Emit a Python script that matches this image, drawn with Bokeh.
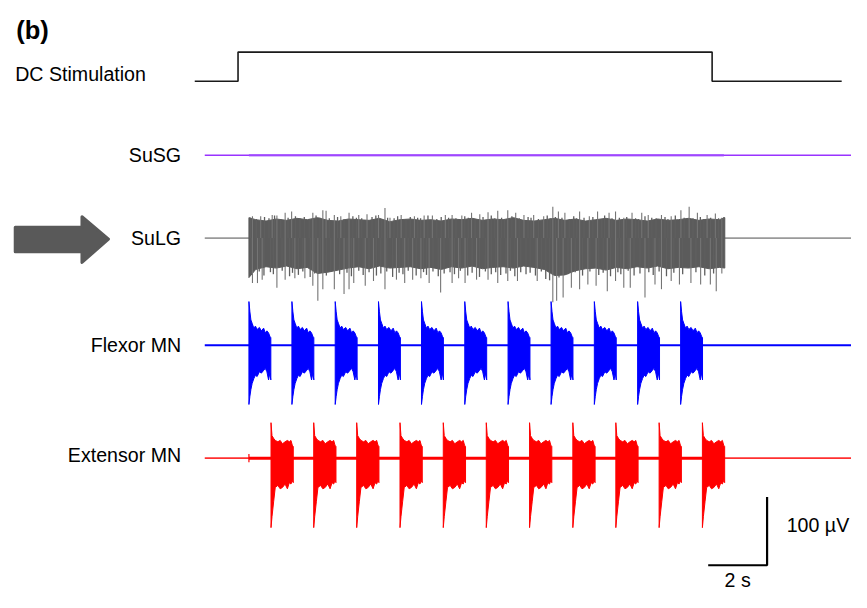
from bokeh.plotting import figure
from bokeh.models import Range1d
from bokeh.core.properties import value
from bokeh.embed import file_html
from bokeh.resources import INLINE

# ---------------- data (time in s, amplitude in µV) ----------------
stim_on, stim_off = 0.0, 16.1            # DC stimulation period
dc_span = (-1.47, 20.5)                  # extent of the DC trace
trace_span = (-1.13, 20.9)               # extent of the recording traces
susg_active = (0.37, 16.5)               # SuSG: faint noise during stimulation

# SuLG: dense core envelope
sulg_core_t = [0.37, 0.6, 0.95, 1.3, 1.65, 2.0, 2.35, 2.7, 3.05, 3.4, 3.75, 4.1,
               4.45, 4.8, 5.15, 5.5, 5.85, 6.2, 6.55, 6.9, 7.25, 7.6, 7.95, 8.3,
               8.65, 9.0, 9.35, 9.7, 10.05, 10.4, 10.75, 11.1, 11.45, 11.8, 12.15,
               12.5, 12.85, 13.2, 13.55, 13.9, 14.25, 14.6, 14.95, 15.3, 15.65,
               16.0, 16.35, 16.53]
sulg_core_up = [30, 27, 25, 28, 26, 29, 27, 30, 26, 25, 28, 27, 26, 29, 24, 27,
                28, 26, 27, 25, 28, 27, 29, 26, 28, 27, 30, 26, 25, 27, 29, 26,
                28, 25, 27, 29, 26, 28, 27, 25, 28, 26, 27, 29, 26, 28, 27, 30]
sulg_core_down = [58, 46, 42, 44, 41, 45, 43, 52, 50, 47, 44, 42, 45, 41, 44, 43,
                  42, 45, 43, 46, 42, 44, 41, 45, 43, 42, 44, 41, 43, 46, 55, 54,
                  48, 45, 44, 47, 43, 45, 42, 44, 41, 45, 43, 44, 42, 45, 43, 44]
# SuLG: large spikes sticking out of the core
sulg_up_t = [0.49, 0.77, 1.16, 1.32, 1.60, 1.82, 2.54, 2.88, 2.99, 3.27, 3.49,
             3.77, 4.10, 4.38, 4.77, 4.99, 5.16, 5.54, 5.99, 6.32, 6.60, 7.04,
             7.27, 7.60, 7.93, 8.21, 8.49, 8.82, 9.16, 9.43, 9.71, 10.04, 10.38,
             10.69, 10.88, 11.10, 11.60, 11.93, 12.21, 12.60, 12.82, 13.10,
             13.38, 13.71, 13.93, 14.38, 14.71, 15.04, 15.32, 15.60, 15.93,
             16.21, 16.43]
sulg_up_amp = [32, 32, 34, 33, 37, 39, 37, 41, 40, 34, 32, 37, 34, 35, 34, 44,
               30, 34, 32, 33, 33, 34, 34, 33, 37, 35, 38, 40, 41, 37, 34, 34,
               32, 46, 39, 37, 39, 32, 39, 37, 39, 30, 37, 37, 34, 34, 32, 41,
               46, 37, 34, 36, 30]
sulg_down_t = [0.49, 0.66, 0.82, 1.32, 1.60, 1.93, 2.27, 2.54, 2.71, 2.88, 3.27,
               3.60, 3.77, 3.93, 4.32, 4.60, 4.99, 5.38, 5.66, 5.93, 6.21, 6.49,
               6.88, 7.27, 7.49, 7.71, 8.10, 8.49, 8.82, 9.16, 9.49, 10.16,
               10.69, 10.82, 11.04, 11.32, 11.60, 11.88, 12.16, 12.54, 12.82,
               13.10, 13.32, 13.82, 14.16, 14.38, 14.71, 14.99, 15.38, 15.71,
               16.04, 16.24, 16.43]
sulg_down_amp = [66, 66, 61, 73, 61, 59, 59, 70, 92, 75, 75, 82, 75, 66, 70,
                 63, 75, 61, 66, 61, 59, 66, 80, 66, 59, 66, 61, 61, 66, 63,
                 63, 63, 94, 92, 87, 73, 75, 68, 70, 78, 63, 73, 73, 87, 68,
                 75, 63, 68, 66, 68, 68, 78, 52]
# SuLG: smaller spikes just beyond the core edge
sulg_minor_up_t = [0.42, 0.62, 0.9, 1.05, 1.24, 1.45, 1.7, 1.95, 2.1, 2.25, 2.42,
                   2.65, 2.78, 3.1, 3.38, 3.6, 3.9, 4.02, 4.2, 4.55, 4.68, 4.88,
                   5.08, 5.3, 5.42, 5.7, 5.85, 6.1, 6.2, 6.45, 6.75, 6.9, 7.15,
                   7.4, 7.7, 7.82, 8.05, 8.32, 8.6, 8.72, 8.95, 9.05, 9.3, 9.55,
                   9.85, 9.95, 10.2, 10.5, 10.6, 10.78, 11.0, 11.25, 11.4, 11.5,
                   11.75, 12.05, 12.35, 12.45, 12.7, 12.95, 13.2, 13.5, 13.6,
                   13.82, 14.05, 14.2, 14.5, 14.6, 14.85, 15.15, 15.45, 15.7,
                   15.82, 16.05, 16.32, 16.5]
sulg_minor_up_amp = [30, 28, 31, 29, 33, 28, 30, 32, 29, 31, 28, 33, 30, 29, 31,
                     28, 32, 30, 29, 31, 33, 28, 30, 29, 32, 28, 31, 30, 29, 33,
                     28, 31, 30, 29, 32, 30, 28, 31, 33, 29, 30, 28, 32, 29, 31,
                     30, 28, 33, 29, 31, 30, 28, 32, 29, 30, 31, 28, 33, 29, 30,
                     31, 29, 28, 32, 30, 29, 31, 28, 33, 30, 29, 31, 28, 30, 29, 31]
sulg_minor_down_t = [0.45, 0.72, 0.88, 1.1, 1.2, 1.5, 1.75, 1.85, 2.05, 2.2, 2.45,
                     2.6, 2.8, 3.0, 3.15, 3.45, 3.7, 3.85, 4.1, 4.25, 4.45, 4.7,
                     4.85, 5.05, 5.25, 5.47, 5.6, 5.78, 6.05, 6.3, 6.4, 6.62, 6.8,
                     7.0, 7.2, 7.35, 7.55, 7.8, 7.95, 8.2, 8.4, 8.6, 8.75, 8.92,
                     9.1, 9.25, 9.4, 9.6, 9.78, 9.92, 10.1, 10.3, 10.45, 10.58,
                     10.9, 11.2, 11.45, 11.7, 11.95, 12.25, 12.4, 12.65, 12.9,
                     13.0, 13.25, 13.45, 13.65, 13.95, 14.1, 14.3, 14.55, 14.8,
                     15.1, 15.55, 15.85, 16.15]
sulg_minor_down_amp = [52, 49, 55, 50, 53, 48, 56, 51, 54, 49, 57, 52, 50, 55, 49,
                       53, 51, 56, 48, 54, 50, 55, 52, 49, 57, 51, 53, 48, 55, 50,
                       54, 49, 56, 52, 50, 53, 48, 55, 51, 57, 49, 53, 50, 54, 52,
                       48, 56, 50, 53, 51, 55, 49, 60, 62, 58, 53, 50, 55, 49, 54,
                       51, 56, 50, 53, 48, 55, 52, 50, 54, 49, 56, 51, 53, 50, 55, 52]

# Flexor MN bursts: onsets and one burst envelope template
flexor_onsets = [0.37, 1.83, 3.30, 4.77, 6.23, 7.70, 9.17, 10.63, 12.10, 13.57, 15.03]
flexor_tpl_t = [0, .033, .067, .11, .167, .22, .278, .356, .422, .5, .556, .61, .667, .711, .744]
flexor_tpl_up = [64, 49, 37, 32, 25, 28, 23, 26, 21, 25, 18, 21, 18, 13, 11]
flexor_tpl_down = [87, 75, 65, 56, 49, 44, 46, 39, 41, 37, 34, 39, 51, 41, 51]

# Extensor MN bursts
extensor_onsets = [1.12, 2.57, 4.03, 5.50, 6.97, 8.43, 9.90, 11.37, 12.83, 14.30, 15.77]
extensor_tpl_t = [0, .033, .089, .144, .233, .311, .389, .478, .556, .622, .678, .722, .756]
extensor_tpl_up = [52, 33, 29, 26, 24, 26, 21, 24, 26, 24, 26, 19, 17]
extensor_tpl_down = [102, 86, 64, 43, 40, 45, 43, 38, 45, 36, 38, 33, 36]
extensor_artifact_t, extensor_artifact_amp = 0.37, 6

scale_time = 2      # s
scale_volt = 100    # µV

# ---------------- layout helpers (reference-image pixels -> data units) ----------------
PX_PER_S = 30.0
PX_PER_UV = 0.7
X0_PX = 242.0
Y0_PX = 600.0
REF_W, REF_H = 867, 608
FIG_W, FIG_H = 851, 592
K = FIG_W / REF_W   # font scale


def X(px):
    return (px - X0_PX) / PX_PER_S


def Y(py):
    return (Y0_PX - py) / PX_PER_UV


base_dc = Y(83)
dc_height = Y(53) - Y(83)
base_susg = Y(159)
base_sulg = Y(244)
base_flex = Y(354)
base_ext = Y(470)

p = figure(width=FIG_W, height=FIG_H, output_backend="svg", toolbar_location=None,
           x_axis_type=None, y_axis_type=None,
           x_range=Range1d(X(0), X(REF_W)), y_range=Range1d(Y(REF_H), Y(0)),
           min_border=0, min_border_left=0, min_border_right=0,
           min_border_top=0, min_border_bottom=0)
p.outline_line_color = None
p.background_fill_color = "white"
p.border_fill_color = "white"

# DC stimulation step
p.line([dc_span[0], stim_on, stim_on, stim_off, stim_off, dc_span[1]],
       [base_dc, base_dc, base_dc + dc_height, base_dc + dc_height, base_dc, base_dc],
       line_color="#1a1a1a", line_width=1.6)

# SuSG
p.line([trace_span[0], trace_span[1]], [base_susg, base_susg], line_color="#9933ff", line_width=1.6)
p.line([susg_active[0], susg_active[1]], [base_susg, base_susg], line_color="#a24dff",
       line_width=2.6, line_alpha=0.75)

# SuLG
p.line([trace_span[0], trace_span[1]], [base_sulg, base_sulg], line_color="#9a9a9a", line_width=1.6)
core_x = sulg_core_t + sulg_core_t[::-1]
core_y = [base_sulg + u for u in sulg_core_up] + [base_sulg - d for d in sulg_core_down[::-1]]
p.patch(core_x, core_y, fill_color="#5b5b5b", line_color="#5b5b5b", line_width=1)
for ts, amps, sign, col, w in [
        (sulg_minor_up_t, sulg_minor_up_amp, 1, "#5f5f5f", 1.3),
        (sulg_minor_down_t, sulg_minor_down_amp, -1, "#5f5f5f", 1.3),
        (sulg_up_t, sulg_up_amp, 1, "#747474", 1.1),
        (sulg_down_t, sulg_down_amp, -1, "#747474", 1.1)]:
    p.segment(ts, [base_sulg] * len(ts), ts, [base_sulg + sign * a for a in amps],
              line_color=col, line_width=w)


def burst_polys(onsets, tt, up, down, base):
    xs, ys = [], []
    for on in onsets:
        x = [on] + [on + t for t in tt] + [on + tt[-1]] + [on + t for t in tt[::-1]]
        y = [base] + [base + u for u in up] + [base] + [base - d for d in down[::-1]]
        xs.append(x)
        ys.append(y)
    return xs, ys


# Flexor MN
p.line([trace_span[0], trace_span[1]], [base_flex, base_flex], line_color="#0000ff", line_width=2)
fx, fy = burst_polys(flexor_onsets, flexor_tpl_t, flexor_tpl_up, flexor_tpl_down, base_flex)
p.patches(fx, fy, fill_color="#0000ff", line_color="#0000ff", line_width=1)

# Extensor MN
p.line([trace_span[0], trace_span[1]], [base_ext, base_ext], line_color="#ff3030", line_width=1.6)
p.line([extensor_artifact_t, extensor_onsets[-1] + extensor_tpl_t[-1]], [base_ext, base_ext],
       line_color="#ff0000", line_width=3)
p.segment([extensor_artifact_t], [base_ext - extensor_artifact_amp], [extensor_artifact_t],
          [base_ext + extensor_artifact_amp], line_color="#ff0000", line_width=1.2)
ex, ey = burst_polys(extensor_onsets, extensor_tpl_t, extensor_tpl_up, extensor_tpl_down, base_ext)
p.patches(ex, ey, fill_color="#ff0000", line_color="#ff0000", line_width=1)

# Scale bar
corner_t, corner_v = X(781), Y(580)
p.line([corner_t - scale_time, corner_t, corner_t], [corner_v, corner_v, corner_v + scale_volt],
       line_color="black", line_width=2.2)

# Arrow (decoration)
arrow_px = [(15, 233), (83, 233), (83, 222), (110, 245), (83, 269), (83, 258), (15, 258)]
p.patch([X(a) for a, b in arrow_px], [Y(b) for a, b in arrow_px], fill_color="#595959",
        line_color="#595959", line_width=3, line_join="round")

font = value("Liberation Sans")
fs = value(f"{20 * K:.1f}px")
p.text([X(184)] * 4, [base_susg, base_sulg, base_flex, Y(467)],
       text=["SuSG", "SuLG", "Flexor MN", "Extensor MN"], text_font=font, text_font_size=fs,
       text_align="right", text_baseline="middle", text_color="black")
p.text([X(15)], [Y(75)], text=["DC Stimulation"], text_font=font, text_font_size=fs,
       text_align="left", text_baseline="middle", text_color="black")
p.text([X(16)], [Y(30)], text=["(b)"], text_font=font, text_font_size=value(f"{26 * K:.1f}px"),
       text_font_style="bold", text_align="left", text_baseline="middle", text_color="black")
p.text([X(801)], [Y(539)], text=["100 µV"], text_font=font, text_font_size=fs,
       text_align="left", text_baseline="middle", text_color="black")
p.text([corner_t - scale_time / 2], [Y(606)], text=["2 s"], text_font=font, text_font_size=fs,
       text_align="center", text_baseline="bottom", text_color="black")

open("out.html", "w").write(file_html(p, INLINE))
